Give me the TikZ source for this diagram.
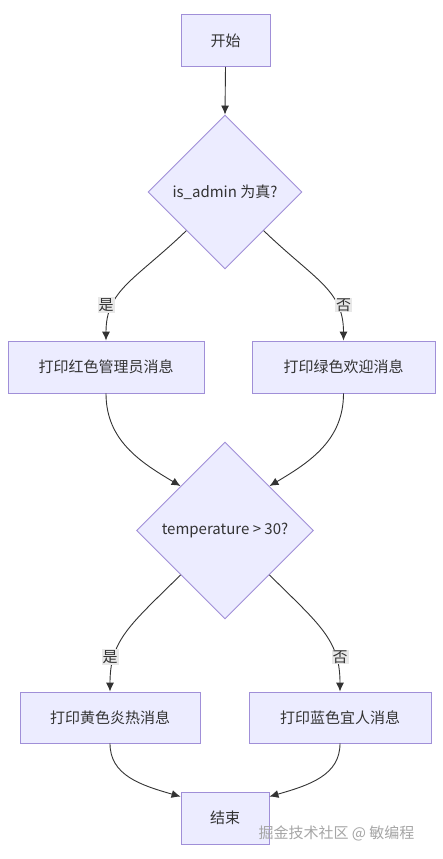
\documentclass[tikz,border=0pt]{standalone}
\usepackage{fontspec}
\setmainfont{Noto Sans CJK SC}
\usetikzlibrary{shapes.geometric,arrows.meta}
\definecolor{nfill}{HTML}{ECECFF}
\definecolor{nborder}{HTML}{A08FD8}
\definecolor{ink}{HTML}{333333}
\definecolor{lblbg}{HTML}{E8E8E8}
\begin{document}
\begin{tikzpicture}[x=1pt,y=-1pt,
  box/.style={draw=nborder,fill=nfill,line width=0.9pt,minimum height=52pt,inner sep=0pt,text=ink,font=\fontsize{15pt}{18pt}\selectfont},
  dia/.style={diamond,draw=nborder,fill=nfill,line width=0.9pt,inner sep=0pt,aspect=1,text=ink,font=\fontsize{15pt}{18pt}\selectfont},
  edge/.style={draw=ink,line width=0.9pt,-{Latex[length=9pt,width=8pt]}},
  lbl/.style={fill=lblbg,text=ink,inner sep=1pt,font=\fontsize{15pt}{18pt}\selectfont}
]
\useasboundingbox[fill=white] (0,0) rectangle (442,859);
\node[box,minimum width=89pt] (s) at (225.5,40.5) {开始};
\node[dia,minimum width=154pt,minimum height=154pt] (d1) at (225,192) {is\_admin 为真?};
\node[box,minimum width=196pt] (b1) at (106,367) {打印红色管理员消息};
\node[box,minimum width=183pt] (b2) at (343.5,367) {打印绿色欢迎消息};
\node[dia,minimum width=177pt,minimum height=177pt] (d2) at (225,530.5) {temperature > 30?};
\node[box,minimum width=180pt,minimum height=51pt] (b3) at (110,717.5) {打印黄色炎热消息};
\node[box,minimum width=182pt,minimum height=51pt] (b4) at (340,717.5) {打印蓝色宜人消息};
\node[box,minimum width=88pt] (e) at (225,818) {结束};

\draw[edge] (s.south) -- (d1.north);
\draw[edge] (d1.south west) .. controls (135,280) and (106,290) .. (b1.north);
\draw[edge] (d1.south east) .. controls (315,280) and (343.5,290) .. (b2.north);
\draw[edge] (b1.south) .. controls (106,440) and (140,462) .. (d2.north west);
\draw[edge] (b2.south) .. controls (343.5,440) and (310,462) .. (d2.north east);
\draw[edge] (d2.south west) .. controls (130,625) and (110,640) .. (b3.north);
\draw[edge] (d2.south east) .. controls (320,625) and (340,640) .. (b4.north);
\draw[edge] (b3.south) .. controls (110,775) and (140,785) .. ([yshift=-5pt]e.north west);
\draw[edge] (b4.south) .. controls (340,775) and (310,785) .. ([yshift=-5pt]e.north east);

\node[lbl] (l1) at (106,305) {是};
\node[lbl] (l2) at (343.5,305) {否};
\node[lbl] (l3) at (110,657) {是};
\node[lbl] (l4) at (340,657) {否};

\node[text=black!35,font=\fontsize{15pt}{17pt}\selectfont,anchor=west] (wm) at (255,833) {掘金技术社区 @ 敏编程};
\end{tikzpicture}
\end{document}
